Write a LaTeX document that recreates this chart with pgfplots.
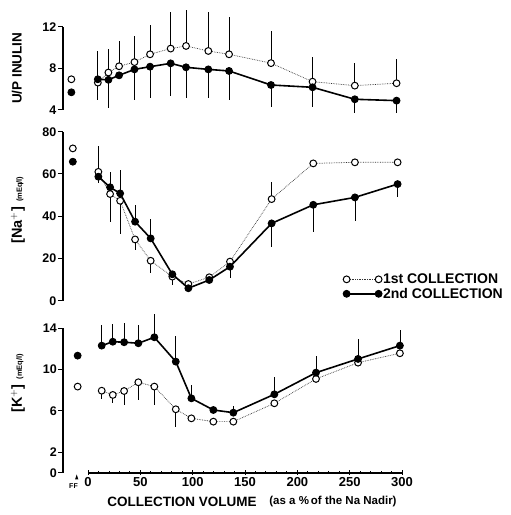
\documentclass[border=0pt]{standalone}
\usepackage{fontspec}
\setmainfont{Liberation Sans}
\usepackage{pgfplots}
\pgfplotsset{compat=1.18}

\pgfplotsset{
  panel/.style={
    scale only axis,
    width=339pt,
    xmin=-24, xmax=300,
    axis y line=left,
    axis line style={-},
    tick style={line width=1pt, black},
    tick align=outside,
    major tick length=5pt,
    clip=false,
    /pgf/number format/assume math mode=true,
    yticklabel style={font=\bfseries\fontsize{12.5}{12.5}\selectfont, inner sep=1.5pt},
    every axis y label/.style={rotate=90, anchor=center},
  },
  first/.style={densely dotted, line width=0.7pt, black!80,
    mark=*, mark size=3.4pt,
    mark options={solid, fill=white, draw=black, line width=1pt},
    error bars/y dir=both, error bars/y explicit, error bars/error mark=none,
    error bars/error bar style={solid, line width=0.8pt, black}},
  second/.style={solid, line width=1.6pt, black,
    mark=*, mark size=3.4pt,
    mark options={solid, fill=black, line width=1pt},
    error bars/y dir=both, error bars/y explicit, error bars/error mark=none,
    error bars/error bar style={solid, line width=0.8pt, black}},
  ffo/.style={only marks, mark=*, mark size=3.4pt,
    mark options={fill=white, draw=black, line width=1pt}, forget plot},
  fff/.style={only marks, mark=*, mark size=3.4pt,
    mark options={fill=black, line width=1pt}, forget plot},
}

\begin{document}
\begin{tikzpicture}
\useasboundingbox (0pt,0pt) rectangle (511pt,515pt);

% ---- U/P inulin
\begin{axis}[panel, axis x line=none, at={(63pt,405pt)}, anchor=south west, height=83.3pt,
    ymin=4, ymax=12, ytick={4,8,12},
    ylabel={\bfseries\fontsize{13.5}{13.5}\selectfont U/P INULIN},
    ylabel style={at={(axis description cs:-0.136,0.5)}}]
  \draw[line width=2.2pt] (rel axis cs:0,0) -- (rel axis cs:0,1);
  \addplot[ffo] coordinates {(-16,6.95)};
  \addplot[fff] coordinates {(-16,5.7)};
  \addplot[first, forget plot] coordinates {
    (9.3,6.63) += (0,3.0)  (19.4,7.6) += (0,2.3)  (29.6,8.2) += (0,2.4)
    (44.3,8.6) += (0,2.5)  (59.2,9.35) += (0,2.8) (78.9,9.9) += (0,3.5)
    (93.6,10.15) += (0,3.45) (114.9,9.67) += (0,3.7) (134.7,9.35) += (0,3.6)
    (174.8,8.5) += (0,3.1) (214.5,6.72) += (0,2.35) (254.9,6.34) += (0,2.2)
    (294.8,6.57) += (0,2.3)
  };
  \addplot[second, forget plot] coordinates {
    (9.3,6.95) -= (0,2.0)  (19.4,6.9) -= (0,2.7)  (29.6,7.33)
    (44.3,7.9) -= (0,2.9)  (59.2,8.16) -= (0,2.96) (78.9,8.48) -= (0,3.1)
    (93.6,8.1) -= (0,2.9)  (114.9,7.9) -= (0,2.7)  (134.7,7.75) -= (0,2.8)
    (174.8,6.4) -= (0,2.1) (214.5,6.18) -= (0,1.9) (254.9,5.03) -= (0,1.3)
    (294.8,4.9) -= (0,1.2)
  };
\end{axis}

% ---- Na+
\begin{axis}[panel, axis x line=none, at={(63pt,214.3pt)}, anchor=south west, height=169pt,
    ymin=0, ymax=80, ytick={0,20,40,60,80},
    ylabel={\bfseries\fontsize{14.5}{14.5}\selectfont [Na$^{+}$]\hspace{5pt}{\fontsize{7.5}{7.5}\selectfont (mEq/l)}},
    ylabel style={at={(axis description cs:-0.133,0.537)}},
    legend style={at={(axis description cs:0.826,0.083)}, anchor=west,
      draw=none, fill=none, font=\bfseries\fontsize{14}{14}\selectfont,
      row sep=3pt, inner sep=0pt, nodes={inner xsep=1pt, inner ysep=0pt}},
    legend cell align=left,
    legend image code/.code={\draw[mark repeat=2, mark phase=1, #1]
      plot coordinates {(0pt,0pt) (16pt,0pt) (32pt,0pt)};}]
  \draw[line width=2.2pt] (rel axis cs:0,0) -- (rel axis cs:0,1);
  \addplot[ffo] coordinates {(-14.6,72.1)};
  \addplot[fff] coordinates {(-14.6,65.8)};
  \addplot[first] coordinates {
    (9.8,61) += (0,12.2)   (21,50.5) -= (0,13.1)  (30.6,47.3) -= (0,15.7)
    (44.9,29) -= (0,5)     (59.8,18.9) -= (0,5.9) (80.5,11.4) -= (0,4)
    (95.8,7.9) (115.8,11.1) (135.6,18.5)
    (175.4,48.1) += (0,8.2) (215.2,65) (255,65.5) (295.8,65.5)
  };
  \addlegendentry{1st COLLECTION}
  \addplot[second] coordinates {
    (9.8,58.7) -= (0,3)    (21,53.7) += (0,7.3)   (30.6,50.8) += (0,11.1)
    (44.9,37.4) += (0,7.9) (59.8,29.5) += (0,9)   (80.5,12.5)
    (95.8,5.9) (115.8,9.8) (135.6,16.1) -= (0,5.5)
    (175.4,36.6) -= (0,11) (215.2,45.4) -= (0,12.7) (255,48.9) -= (0,11.2)
    (295.8,55.2) -= (0,6)
  };
  \addlegendentry{2nd COLLECTION}
\end{axis}

% ---- K+
\begin{axis}[panel, at={(63pt,42.3pt)}, anchor=south west, height=144.4pt,
    ymin=0, ymax=14, ytick={0,2,6,10,14},
    axis x line=bottom, x axis line style={draw=none},
    xtick={0,50,100,150,200,250,300}, minor x tick num=4,
    x tick style={line width=1pt, black},
    minor tick length=2.5pt,
    major tick length=4.5pt,
    xticklabel style={font=\bfseries\fontsize{13}{13}\selectfont, inner sep=2.5pt},
    ylabel={\bfseries\fontsize{14.5}{14.5}\selectfont [K$^{+}$]\hspace{5pt}{\fontsize{7.5}{7.5}\selectfont (mEq/l)}},
    ylabel style={at={(axis description cs:-0.133,0.62)}}]
  \draw[line width=2.2pt] (rel axis cs:0,0) -- (rel axis cs:0,1);
  \draw[line width=1.8pt] (axis cs:0,0) -- (axis cs:300,0);
  \addplot[ffo] coordinates {(-10,8.35)};
  \addplot[fff] coordinates {(-10,11.35)};
  \addplot[first] coordinates {
    (13,7.95) -= (0,0.8)   (23.6,7.54) -= (0,0.8) (34.4,7.92) -= (0,1.35)
    (48,8.77) -= (0,1.7)   (63.3,8.35) -= (0,1.8) (83.8,6.15) -= (0,1.7)
    (98.7,5.27) -= (0,0.4) (119.7,4.95) (138.8,4.95) (178,6.73)
    (217.8,9.09) (258,10.67) (298,11.58)
  };
  \addplot[second] coordinates {
    (13,12.32) += (0,2.0)  (23.6,12.7) += (0,1.7) (34.4,12.65) += (0,1.85)
    (48,12.55) += (0,1.8)  (63.3,13.13) += (0,2.27) (83.8,10.77) += (0,2.5)
    (98.7,7.21) += (0,1.3) (119.7,6.08) (138.8,5.82) += (0,0.65)
    (178,7.6) += (0,1.65)  (217.8,9.7) += (0,1.6) (258,11.03) += (0,1.9)
    (298,12.32) += (0,1.5)
  };
\end{axis}

\fill (76.7pt,40.5pt) -- (75pt,35.5pt) -- (78.4pt,35.5pt) -- cycle;
\node[font=\bfseries\fontsize{7}{7}\selectfont] at (73.5pt,28.5pt) {FF};
\node[font=\bfseries\fontsize{13.5}{13.5}\selectfont] at (182pt,13.3pt) {COLLECTION VOLUME};
\node[font=\bfseries\fontsize{11.5}{11.5}\selectfont] at (333pt,13.3pt) {(as a \%\,of the Na Nadir)};
\end{tikzpicture}
\end{document}
